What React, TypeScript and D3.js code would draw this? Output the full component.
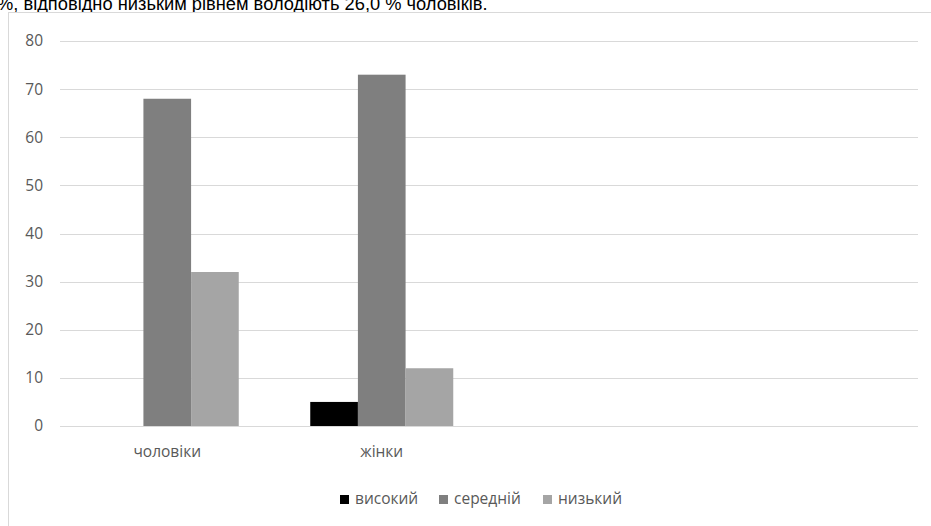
import React from "react";
import * as d3 from "d3";

const categories = ["чоловіки", "жінки", "", " "];
const seriesNames = ["високий", "середній", "низький"];
const seriesColors = ["#000000", "#7f7f7f", "#a5a5a5"];
const high = [0, 5];
const mid = [68, 73];
const low = [32, 12];
const yTicks = [0, 10, 20, 30, 40, 50, 60, 70, 80];
const caption = "%, відповідно низьким рівнем володіють 26,0 % чоловіків.";

const W = 931;
const H = 526;

export default function App() {
  const values = [high, mid, low];
  const x = d3.scaleBand().domain(categories).range([60, 918]).paddingInner(0).paddingOuter(0);
  const xi = d3
    .scaleBand()
    .domain(seriesNames)
    .range([0, x.bandwidth()])
    .paddingInner(0)
    .paddingOuter(0.75);
  const y = d3.scaleLinear().domain([0, 80]).range([426, 41]);
  const font = "'Open Sans', sans-serif";
  const fs = 15.5;
  const legendX = [340, 439, 543];
  return (
    <div style={{ position: "absolute", left: 0, top: 0, width: W, height: H, overflow: "hidden", background: "#fff" }}>
      <svg width={W} height={H} style={{ display: "block" }}>
        <text x={-3} y={10} fontFamily="'Liberation Sans', Arial, sans-serif" fontSize={18.3} fill="#000">
          {caption}
        </text>
        <rect x={8.5} y={12.5} width={1000} height={600} fill="#fff" stroke="#d9d9d9" strokeWidth={1} />
        {yTicks.map((t) => (
          <g key={t}>
            <line x1={60} x2={918} y1={Math.round(y(t)) + 0.5} y2={Math.round(y(t)) + 0.5} stroke="#d9d9d9" strokeWidth={1} />
            <text x={43} y={y(t)} dy="0.35em" textAnchor="end" fontFamily={font} fontSize={fs} fill="#595959">
              {t}
            </text>
          </g>
        ))}
        {categories.slice(0, 2).map((c, ci) => (
          <g key={c}>
            {seriesNames.map((s, si) => {
              const v = values[si][ci];
              if (!v) return null;
              return (
                <rect
                  key={s}
                  x={(x(c) ?? 0) + (xi(s) ?? 0)}
                  y={y(v)}
                  width={xi.bandwidth()}
                  height={y(0) - y(v)}
                  fill={seriesColors[si]}
                />
              );
            })}
            <text
              x={(x(c) ?? 0) + x.bandwidth() / 2}
              y={457}
              textAnchor="middle"
              fontFamily={font}
              fontSize={fs}
              fill="#595959"
            >
              {c}
            </text>
          </g>
        ))}
        {seriesNames.map((s, si) => (
          <g key={s}>
            <rect x={legendX[si]} y={495} width={9} height={9} fill={seriesColors[si]} />
            <text x={legendX[si] + 15} y={504} fontFamily={font} fontSize={fs} fill="#595959">
              {s}
            </text>
          </g>
        ))}
      </svg>
    </div>
  );
}
